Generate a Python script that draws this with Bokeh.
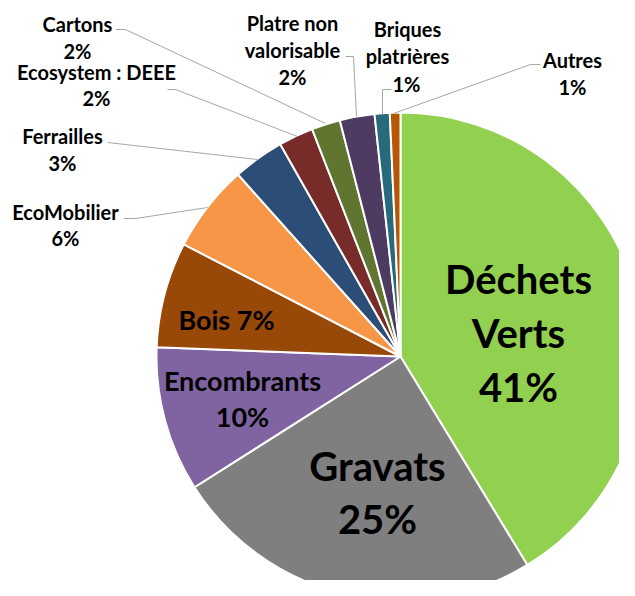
import numpy as np
from bokeh.plotting import figure
from bokeh.models import Range1d
from bokeh.core.properties import value
from bokeh.embed import file_html
from bokeh.resources import INLINE

# ---- data (clockwise from 12 o'clock) ----
categories = ["Déchets Verts", "Gravats", "Encombrants", "Bois", "EcoMobilier",
              "Ferrailles", "Ecosystem : DEEE", "Cartons", "Platre non valorisable",
              "Briques platrières", "Autres"]
shares = [41.3, 24.7, 9.6, 7.0, 5.8, 3.4, 2.3, 1.9, 2.3, 1.0, 0.7]
colors = ["#92D050", "#7F7F7F", "#8064A2", "#984807", "#F79646",
          "#2C4D75", "#772C2A", "#5F7530", "#4D3B62", "#276A7C", "#B65708"]

# ---- layout (pixel coordinates of the picture) ----
W, H = 619, 580
cx, cy, R = 400, 356, 244

p = figure(width=W, height=H, output_backend="svg", toolbar_location=None,
           x_range=Range1d(0, W), y_range=Range1d(-H, 0),
           min_border=0, outline_line_color=None, background_fill_color="white",
           border_fill_color="white")
p.xaxis.visible = False
p.yaxis.visible = False
p.grid.visible = False

vals = np.array(shares, dtype=float)
frac = vals / vals.sum()
cum = np.concatenate([[0.0], np.cumsum(frac)]) * 2 * np.pi
theta1 = cum[:-1]
theta2 = cum[1:]
start = np.pi / 2 - theta2
end = np.pi / 2 - theta1

p.wedge(x=cx, y=-cy, radius=R, start_angle=start, end_angle=end,
        fill_color=colors, line_color="white", line_width=2)

FONT = value("Lato")
lead = "#A6A6A6"

# leader lines
leaders = [
    ([115, 125, 325], [29, 29, 123]),      # Cartons
    ([167, 175, 297], [89, 89, 136]),      # Ecosystem
    ([107, 257], [142, 159]),              # Ferrailles
    ([123, 135, 207], [218, 218, 207]),    # EcoMobilier
    ([345, 353, 356], [56, 56, 116]),      # Platre
    ([391, 382, 382], [89, 89, 114]),      # Briques
    ([540, 530, 393], [64, 64, 113]),      # Autres
]
for xs, ys in leaders:
    p.line(xs, [-y for y in ys], line_color=lead, line_width=1)

pct = [f"{int(round(v))}%" for v in shares]

def lbl(x, y, t, size):
    p.text(x=[x], y=[-y], text=[t], text_font=FONT, text_font_style="bold",
           text_font_size=size, text_align="center", text_baseline="middle",
           text_color="black")

small = "20px"
# outside labels
lbl(77, 23, "Cartons", small); lbl(77, 50, pct[7], small)
lbl(96, 71, "Ecosystem : DEEE", small); lbl(96, 97, pct[6], small)
lbl(62, 135, "Ferrailles", small); lbl(62, 162, pct[5], small)
lbl(65, 211, "EcoMobilier", small); lbl(65, 237, pct[4], small)
lbl(292, 22, "Platre non", small); lbl(292, 49, "valorisable", small); lbl(292, 76, pct[8], small)
lbl(407, 28, "Briques", small); lbl(407, 55, "platrières", small); lbl(406, 83, pct[9], small)
lbl(572, 59, "Autres", small); lbl(572, 86, pct[10], small)

# inside labels
mid = "27px"
big = "40px"
lbl(226, 319, "Bois " + pct[3], mid)
lbl(242, 380, "Encombrants", mid); lbl(242, 416, pct[2], mid)
lbl(377, 465, "Gravats", big); lbl(377, 518, pct[1], big)
lbl(518, 278, "Déchets", big); lbl(518, 332, "Verts", big); lbl(518, 386, pct[0], big)

open("out.html", "w").write(file_html(p, INLINE))
